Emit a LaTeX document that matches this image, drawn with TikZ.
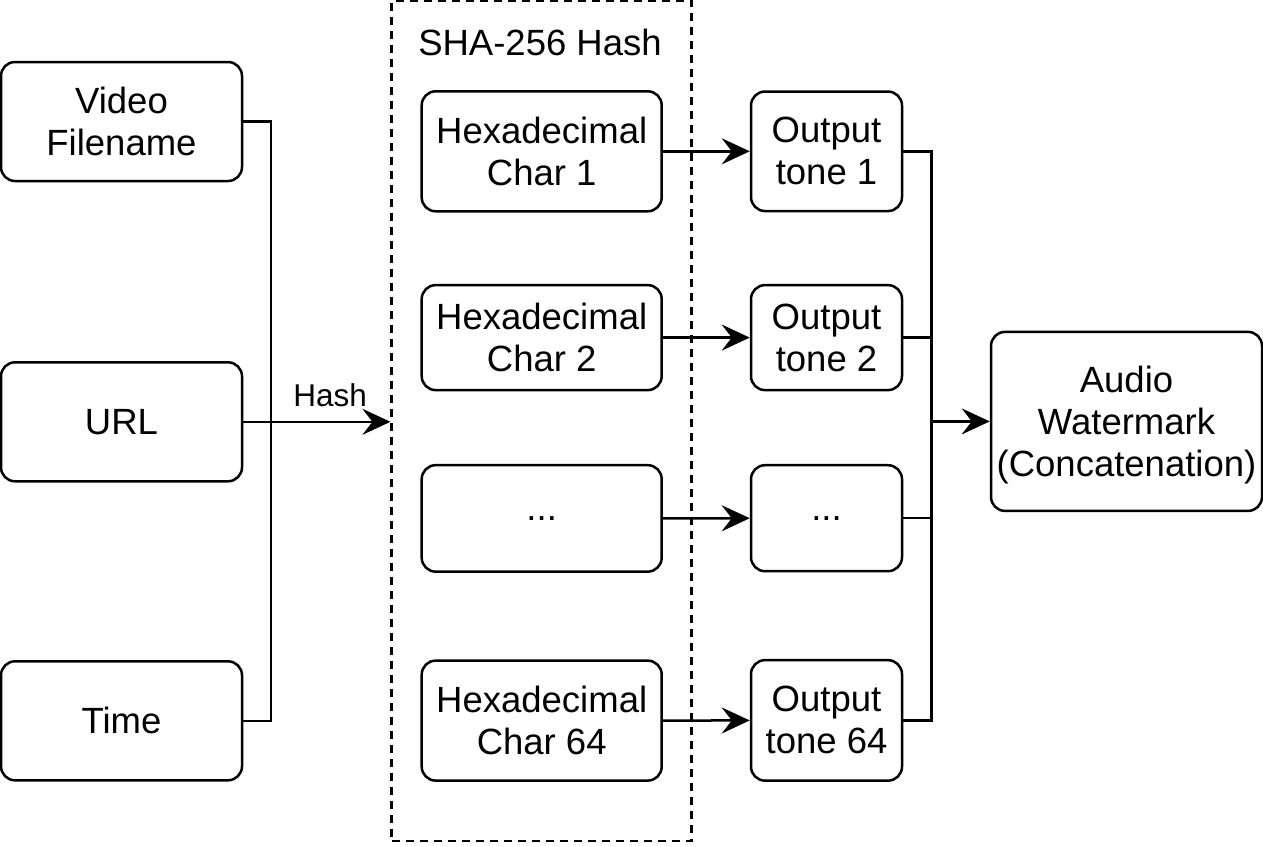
\documentclass[tikz,border=0pt]{standalone}
\usepackage{fontspec}
\setmainfont{Liberation Sans}
\usetikzlibrary{arrows.meta}
\begin{document}
\begin{tikzpicture}[x=1pt,y=-1pt,
  box/.style={draw,line width=2.5pt,rounded corners=14pt,align=center,inner sep=0pt,
    font=\fontsize{36.5}{42}\selectfont},
  conn/.style={line width=2.5pt},
  arr/.style={line width=2.5pt,-{Stealth[length=28pt,width=26pt,inset=10pt]}},
  lbl/.style={inner sep=0pt,font=\fontsize{36.5}{42}\selectfont},
  elbl/.style={inner sep=0pt,font=\fontsize{31.5}{36}\selectfont}]
\useasboundingbox (0,0) rectangle (1263,846);
% dashed container
\node[draw,line width=2.5pt,dash pattern=on 8pt off 6pt,minimum width=300pt,minimum height=840pt,inner sep=0pt]
  (sha) at (541.7,421) {};
\node[lbl] (shalbl) at (540,42) {SHA-256 Hash};
% inputs
\node[box,minimum width=241pt,minimum height=119pt] (vid) at (121.5,121.5) {Video\\Filename};
\node[box,minimum width=241pt,minimum height=119pt] (url) at (121.5,421.8) {URL};
\node[box,minimum width=241pt,minimum height=119pt] (time) at (121.5,720.8) {Time};
% hex chars
\node[box,minimum width=240pt,minimum height=120pt] (h1) at (541.7,151.3) {Hexadecimal\\Char 1};
\node[box,minimum width=240pt,minimum height=105pt] (h2) at (541.7,337.6) {Hexadecimal\\Char 2};
\node[box,minimum width=240pt,minimum height=106.5pt] (h3) at (541.7,518.4) {...};
\node[box,minimum width=240pt,minimum height=120pt] (h64) at (541.7,720.6) {Hexadecimal\\Char 64};
% tones
\node[box,minimum width=151pt,minimum height=119.5pt] (t1) at (826.5,151.3) {Output\\tone 1};
\node[box,minimum width=151pt,minimum height=105pt] (t2) at (826.5,337.6) {Output\\tone 2};
\node[box,minimum width=151pt,minimum height=106pt] (t3) at (826.5,518.2) {...};
\node[box,minimum width=151pt,minimum height=120.5pt] (t64) at (826.5,720.4) {Output\\tone 64};
% output
\node[box,text depth=0pt,minimum width=271pt,minimum height=179pt] (aud) at (1126.5,421.4) {Audio\\Watermark\\(Concatenation)};
% junctions
\coordinate (m1) at (271.2,421.8);
\coordinate (m2) at (931.7,421.4);
% left connectors
\draw[conn] (vid.east) -| (m1);
\draw[conn] (time.east) -| (m1);
\draw[arr] (url.east) -- (url.east -| sha.west) node[elbl,pos=0.59,above=14pt] (hashlbl) {Hash};
% hex to tone
\draw[arr] (h1.east) -- (t1.west);
\draw[arr] (h2.east) -- (t2.west);
\draw[arr] (h3.east) -- (t3.west);
\draw[arr] (h64.east) -- (t64.west);
% tones merge
\draw[conn] (t1.east) -| (m2);
\draw[conn] (t64.east) -| (m2);
\draw[conn] (t2.east) -- (t2.east -| m2);
\draw[conn] (t3.east) -- (t3.east -| m2);
\draw[arr] (m2) -- (aud.west);
\end{tikzpicture}
\end{document}
